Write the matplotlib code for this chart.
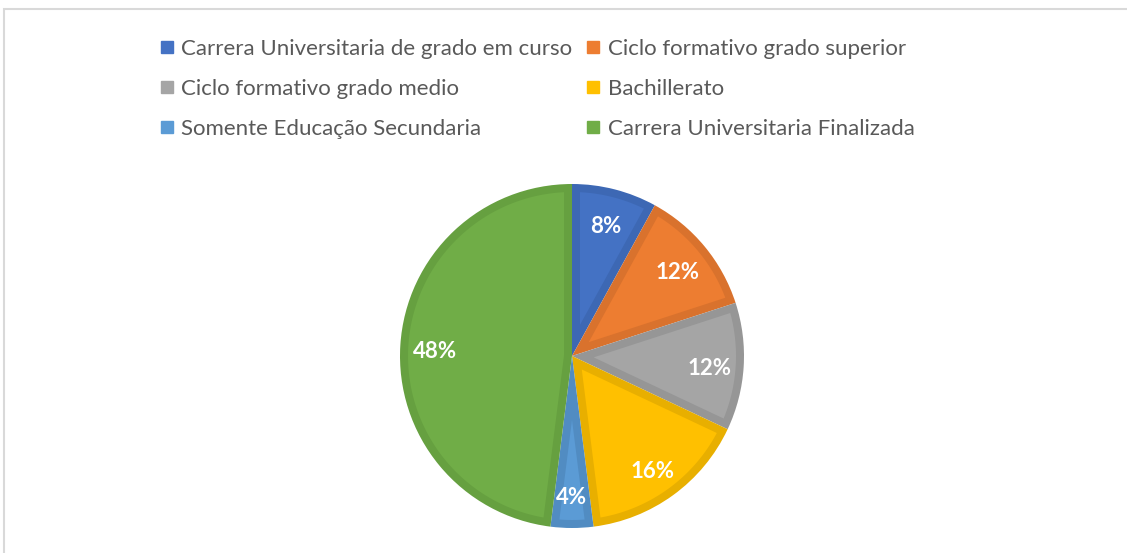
import numpy as np
import matplotlib.pyplot as plt
import matplotlib.transforms as mtransforms
from matplotlib.patches import Rectangle, Polygon
from matplotlib.lines import Line2D

labels = ['Carrera Universitaria de grado em curso', 'Ciclo formativo grado superior',
          'Ciclo formativo grado medio', 'Bachillerato',
          'Somente Educação Secundaria', 'Carrera Universitaria Finalizada']
values = [8, 12, 12, 16, 4, 48]
fills = ['#4472C4', '#ED7D31', '#A5A5A5', '#FFC000', '#5B9BD5', '#70AD47']
edges = ['#3D68B4', '#D9722D', '#969696', '#E8AF00', '#518CC2', '#66A040']

plt.rcParams['font.family'] = ['Lato', 'DejaVu Sans']

fig = plt.figure(figsize=(11.27, 5.53), dpi=100)
W, H = 1127, 553

# chart frame
fig.patches.append(Rectangle((4 / W, -0.1), 1.2, (553 - 9.5) / H + 0.1, transform=fig.transFigure,
                             fill=False, edgecolor='#D9D9D9', linewidth=1.5))

cx, cy, r = 572, 553 - 356, 172
ax = fig.add_axes([(cx - r) / W, (cy - r) / H, 2 * r / W, 2 * r / H])
wedges, texts, autotexts = ax.pie(values, colors=edges, startangle=90, counterclock=False,
                                  autopct='%1.0f%%', pctdistance=0.8)


def inset_wedge(w, d):
    # lighter inner part of a wedge, leaving a border of width d
    t1, t2 = np.radians(w.theta1), np.radians(w.theta2)
    half = (t2 - t1) / 2
    mid = (t1 + t2) / 2
    apex = d / np.sin(half) * np.array([np.cos(mid), np.sin(mid)])
    R = w.r - d
    ends = []
    for t in (t1, t2):
        u = np.array([np.cos(t), np.sin(t)])
        b = apex @ u
        c = apex @ apex - R ** 2
        ends.append(apex + (-b + np.sqrt(b * b - c)) * u)
    a1 = np.arctan2(ends[0][1], ends[0][0])
    a2 = np.arctan2(ends[1][1], ends[1][0])
    if a2 < a1:
        a2 += 2 * np.pi
    arc = np.linspace(a1, a2, 100)
    pts = np.vstack([apex, np.column_stack([R * np.cos(arc), R * np.sin(arc)]), apex])
    return pts


for w, fc in zip(wedges, fills):
    ax.add_patch(Polygon(inset_wedge(w, 8 / r), closed=True, facecolor=fc, edgecolor='none'))
shift = mtransforms.ScaledTranslation(0, -4 / 100, fig.dpi_scale_trans)
for t in autotexts:
    t.set_color('white')
    t.set_fontweight('bold')
    t.set_fontsize(16)
    t.set_zorder(5)
    t.set_transform(t.get_transform() + shift)
ax.set_xlim(-1, 1)
ax.set_ylim(-1, 1)

handles = [Line2D([], [], marker='s', linestyle='none', markersize=8.6, color=c) for c in fills]
order = [0, 2, 4, 1, 3, 5]
fig.legend([handles[i] for i in order], [labels[i] for i in order], ncol=2,
           loc='upper left', bbox_to_anchor=(139 / W, 1 - 19 / H), frameon=False,
           fontsize=16, labelcolor='#595959', handlelength=0.7, handletextpad=0.3,
           columnspacing=0.6, labelspacing=0.9)

fig.savefig('out.png', dpi=100)
